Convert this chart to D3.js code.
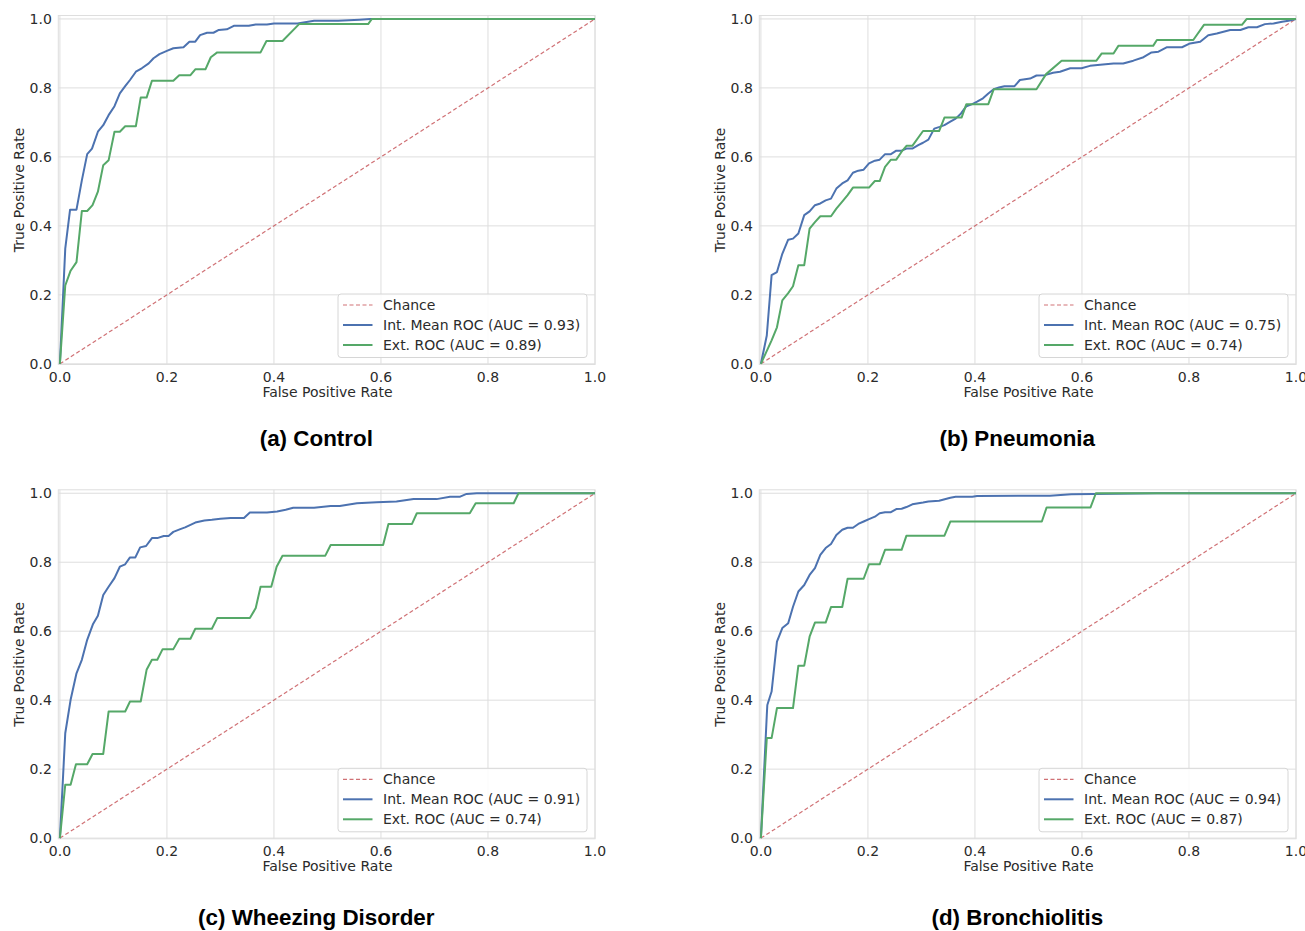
<!DOCTYPE html>
<html>
<head>
<meta charset="utf-8">
<script src="https://cdn.jsdelivr.net/npm/d3@7"></script>
<style>
  body { margin: 0; background: #fff; }
  svg { display: block; }
</style>
</head>
<body>
<div id="chart"></div>
<script>
(function(){

  // panel titles and AUC values
  var titles = ["(a) Control", "(b) Pneumonia", "(c) Wheezing Disorder", "(d) Bronchiolitis"];
  var aucInt = ["0.93", "0.75", "0.91", "0.94"];
  var aucExt = ["0.89", "0.74", "0.74", "0.87"];
  var xTicks = [0, 0.2, 0.4, 0.6, 0.8, 1.0];
  var yTicks = [0, 0.2, 0.4, 0.6, 0.8, 1.0];

  // [fpr, tpr]
  var controlInt = [[0,0],[0.01,0.334],[0.019,0.447],[0.031,0.447],[0.041,0.532],[0.051,0.608],[0.06,0.624],[0.071,0.673],[0.081,0.692],[0.091,0.721],[0.102,0.747],[0.112,0.784],[0.122,0.805],[0.131,0.823],[0.142,0.847],[0.153,0.857],[0.166,0.871],[0.175,0.886],[0.186,0.898],[0.201,0.908],[0.212,0.915],[0.231,0.918],[0.242,0.934],[0.253,0.934],[0.262,0.953],[0.275,0.96],[0.287,0.96],[0.297,0.968],[0.312,0.97],[0.325,0.98],[0.353,0.98],[0.366,0.984],[0.387,0.984],[0.4,0.987],[0.444,0.987],[0.475,0.995],[0.52,0.995],[0.56,0.998],[0.58,1],[1,1]];
  var controlExt = [[0,0],[0.01,0.227],[0.02,0.27],[0.031,0.295],[0.041,0.443],[0.051,0.443],[0.061,0.46],[0.071,0.499],[0.081,0.576],[0.091,0.59],[0.102,0.673],[0.112,0.673],[0.122,0.689],[0.142,0.689],[0.151,0.772],[0.162,0.772],[0.172,0.821],[0.212,0.821],[0.223,0.837],[0.244,0.837],[0.253,0.854],[0.272,0.854],[0.282,0.889],[0.294,0.903],[0.375,0.903],[0.386,0.936],[0.416,0.936],[0.447,0.985],[0.576,0.985],[0.583,1],[1,1]];

  var pneumoniaInt = [[0,0],[0.011,0.082],[0.02,0.257],[0.03,0.266],[0.04,0.319],[0.051,0.36],[0.06,0.363],[0.07,0.378],[0.081,0.431],[0.091,0.442],[0.101,0.46],[0.111,0.465],[0.121,0.474],[0.131,0.479],[0.141,0.508],[0.152,0.523],[0.162,0.532],[0.172,0.554],[0.182,0.56],[0.192,0.563],[0.202,0.581],[0.213,0.589],[0.222,0.592],[0.232,0.608],[0.243,0.608],[0.253,0.618],[0.263,0.618],[0.272,0.624],[0.283,0.624],[0.294,0.634],[0.303,0.641],[0.313,0.65],[0.324,0.682],[0.334,0.687],[0.343,0.692],[0.354,0.702],[0.364,0.711],[0.374,0.726],[0.384,0.747],[0.395,0.753],[0.404,0.76],[0.415,0.77],[0.425,0.784],[0.435,0.796],[0.445,0.801],[0.455,0.805],[0.474,0.805],[0.484,0.823],[0.503,0.827],[0.515,0.836],[0.531,0.837],[0.546,0.844],[0.559,0.847],[0.578,0.857],[0.599,0.857],[0.615,0.864],[0.634,0.867],[0.659,0.871],[0.677,0.871],[0.696,0.879],[0.715,0.889],[0.73,0.903],[0.743,0.905],[0.759,0.918],[0.787,0.918],[0.802,0.929],[0.821,0.934],[0.836,0.953],[0.852,0.958],[0.877,0.968],[0.896,0.968],[0.911,0.976],[0.927,0.976],[0.942,0.985],[0.958,0.987],[0.974,0.992],[0.986,0.995],[1,1]];
  var pneumoniaExt = [[0,0],[0.02,0.068],[0.03,0.106],[0.04,0.184],[0.051,0.205],[0.06,0.225],[0.07,0.286],[0.081,0.286],[0.091,0.392],[0.101,0.411],[0.111,0.428],[0.131,0.428],[0.141,0.45],[0.152,0.47],[0.162,0.489],[0.172,0.511],[0.202,0.511],[0.213,0.53],[0.222,0.53],[0.232,0.571],[0.243,0.592],[0.253,0.592],[0.263,0.615],[0.272,0.632],[0.283,0.632],[0.303,0.675],[0.333,0.675],[0.343,0.714],[0.375,0.714],[0.384,0.753],[0.425,0.753],[0.435,0.796],[0.515,0.796],[0.533,0.84],[0.562,0.879],[0.627,0.879],[0.637,0.9],[0.659,0.9],[0.668,0.922],[0.733,0.922],[0.74,0.939],[0.808,0.939],[0.828,0.983],[0.899,0.983],[0.908,1],[1,1]];

  var wheezingInt = [[0,0],[0.01,0.304],[0.02,0.401],[0.031,0.478],[0.041,0.517],[0.051,0.575],[0.062,0.621],[0.071,0.645],[0.081,0.705],[0.091,0.729],[0.102,0.754],[0.112,0.787],[0.122,0.794],[0.131,0.814],[0.141,0.814],[0.15,0.843],[0.161,0.847],[0.172,0.87],[0.182,0.87],[0.194,0.876],[0.203,0.876],[0.212,0.888],[0.225,0.896],[0.234,0.901],[0.253,0.915],[0.27,0.921],[0.284,0.923],[0.3,0.926],[0.319,0.928],[0.344,0.928],[0.355,0.944],[0.387,0.944],[0.406,0.947],[0.422,0.952],[0.436,0.958],[0.475,0.958],[0.506,0.963],[0.523,0.963],[0.555,0.971],[0.592,0.974],[0.629,0.976],[0.661,0.983],[0.704,0.983],[0.729,0.99],[0.748,0.99],[0.76,0.998],[0.779,1],[1,1]];
  var wheezingExt = [[0,0],[0.01,0.155],[0.02,0.155],[0.03,0.214],[0.051,0.214],[0.061,0.244],[0.081,0.244],[0.091,0.367],[0.122,0.367],[0.131,0.396],[0.151,0.396],[0.162,0.488],[0.172,0.517],[0.182,0.517],[0.192,0.548],[0.212,0.548],[0.223,0.578],[0.244,0.578],[0.253,0.607],[0.284,0.607],[0.294,0.638],[0.355,0.638],[0.366,0.667],[0.375,0.729],[0.395,0.729],[0.405,0.787],[0.416,0.819],[0.496,0.819],[0.506,0.85],[0.604,0.85],[0.614,0.911],[0.658,0.911],[0.667,0.942],[0.766,0.942],[0.777,0.971],[0.848,0.971],[0.857,1],[1,1]];

  var bronchInt = [[0,0],[0.011,0.357],[0.012,0.386],[0.02,0.425],[0.03,0.57],[0.04,0.609],[0.051,0.623],[0.06,0.671],[0.07,0.715],[0.081,0.734],[0.091,0.763],[0.101,0.783],[0.111,0.821],[0.121,0.841],[0.131,0.853],[0.141,0.879],[0.152,0.894],[0.162,0.9],[0.172,0.9],[0.182,0.911],[0.192,0.918],[0.202,0.925],[0.213,0.932],[0.222,0.942],[0.232,0.945],[0.243,0.945],[0.253,0.954],[0.263,0.955],[0.272,0.96],[0.283,0.968],[0.303,0.973],[0.313,0.976],[0.333,0.978],[0.354,0.987],[0.364,0.99],[0.395,0.99],[0.404,0.992],[0.54,0.993],[0.58,0.997],[0.74,1],[1,1]];
  var bronchExt = [[0,0],[0.011,0.29],[0.02,0.29],[0.03,0.377],[0.06,0.377],[0.07,0.5],[0.081,0.5],[0.091,0.584],[0.101,0.625],[0.121,0.625],[0.131,0.67],[0.152,0.67],[0.162,0.752],[0.192,0.752],[0.202,0.794],[0.222,0.794],[0.232,0.836],[0.263,0.836],[0.272,0.877],[0.343,0.877],[0.354,0.918],[0.525,0.918],[0.534,0.959],[0.616,0.959],[0.626,1],[1,1]];

  var intCurves = [controlInt, pneumoniaInt, wheezingInt, bronchInt];
  var extCurves = [controlExt, pneumoniaExt, wheezingExt, bronchExt];

  var blue = "#4c72b0", green = "#55a868", red = "#c44e52";
  var gridColor = "#dedede", textColor = "#2b2b2b";

  var svg = d3.select("#chart").append("svg")
    .attr("width", 1305)
    .attr("height", 931);

  // left/top of each axes frame
  var origins = [[58.3, 15.5], [759.3, 15.5], [58.3, 489.8], [759.3, 489.8]];
  var pw = 536.7, ph = 349;

  var x = d3.scaleLinear().domain([-0.003, 1.0]).range([0, pw]);
  var y = d3.scaleLinear().domain([-0.002, 1.01]).range([ph, 0]);

  var line = d3.line()
    .x(function(d){ return x(d[0]); })
    .y(function(d){ return y(d[1]); });

  origins.forEach(function(o, i){
    var g = svg.append("g")
      .attr("transform", "translate(" + o[0] + "," + o[1] + ")")
      .style("font-family", "DejaVu Sans, sans-serif");

    // grid
    g.selectAll(".vg").data(xTicks).enter().append("line")
      .attr("x1", function(d){ return x(d); })
      .attr("x2", function(d){ return x(d); })
      .attr("y1", 0).attr("y2", ph)
      .attr("stroke", gridColor).attr("stroke-width", 1);
    g.selectAll(".hg").data(yTicks).enter().append("line")
      .attr("x1", 0).attr("x2", pw)
      .attr("y1", function(d){ return y(d); })
      .attr("y2", function(d){ return y(d); })
      .attr("stroke", gridColor).attr("stroke-width", 1);

    g.append("rect")
      .attr("width", pw).attr("height", ph)
      .attr("fill", "none").attr("stroke", gridColor).attr("stroke-width", 1);

    // tick labels
    g.selectAll(".xt").data(xTicks).enter().append("text")
      .attr("x", function(d){ return x(d); })
      .attr("y", ph + 17.5)
      .attr("text-anchor", "middle")
      .attr("font-size", 14).attr("fill", textColor)
      .text(function(d){ return d3.format(".1f")(d); });
    g.selectAll(".yt").data(yTicks).enter().append("text")
      .attr("x", -6.5)
      .attr("y", function(d){ return y(d) + 5; })
      .attr("text-anchor", "end")
      .attr("font-size", 14).attr("fill", textColor)
      .text(function(d){ return d3.format(".1f")(d); });

    g.append("text")
      .attr("x", x(0.5)).attr("y", ph + 32)
      .attr("text-anchor", "middle")
      .attr("font-size", 14).attr("fill", textColor)
      .text("False Positive Rate");
    g.append("text")
      .attr("transform", "translate(-34," + (ph / 2) + ") rotate(-90)")
      .attr("text-anchor", "middle")
      .attr("font-size", 14).attr("fill", textColor)
      .text("True Positive Rate");

    // curves
    g.append("path")
      .datum([[0, 0], [1, 1]])
      .attr("d", line)
      .attr("fill", "none").attr("stroke", red).attr("stroke-opacity", 0.8)
      .attr("stroke-width", 1.2).attr("stroke-dasharray", "4,2.5");
    g.append("path")
      .datum(intCurves[i])
      .attr("d", line)
      .attr("fill", "none").attr("stroke", blue).attr("stroke-width", 2)
      .attr("stroke-linejoin", "round");
    g.append("path")
      .datum(extCurves[i])
      .attr("d", line)
      .attr("fill", "none").attr("stroke", green).attr("stroke-width", 2)
      .attr("stroke-linejoin", "round");

    // legend
    var lw = 249, lh = 63.5;
    var lg = g.append("g")
      .attr("transform", "translate(" + (pw - lw - 8) + "," + (ph - lh - 7) + ")");
    lg.append("rect")
      .attr("width", lw).attr("height", lh).attr("rx", 3)
      .attr("fill", "#fff").attr("fill-opacity", 0.85)
      .attr("stroke", "#d6d6d6");
    var entries = [
      {label: "Chance", color: red, dash: "4,2.5", w: 1.2, op: 0.8},
      {label: "Int. Mean ROC (AUC = " + aucInt[i] + ")", color: blue, dash: null, w: 2, op: 1},
      {label: "Ext. ROC (AUC = " + aucExt[i] + ")", color: green, dash: null, w: 2, op: 1}
    ];
    entries.forEach(function(e, k){
      var cy = 11 + k * 20;
      lg.append("line")
        .attr("x1", 5).attr("x2", 34.5)
        .attr("y1", cy).attr("y2", cy)
        .attr("stroke", e.color).attr("stroke-width", e.w)
        .attr("stroke-opacity", e.op)
        .attr("stroke-dasharray", e.dash);
      lg.append("text")
        .attr("x", 45).attr("y", cy + 5)
        .attr("font-size", 14).attr("fill", textColor)
        .text(e.label);
    });

    // subplot caption
    svg.append("text")
      .attr("x", o[0] + 258).attr("y", o[1] + (i < 2 ? 430.5 : 435.2))
      .attr("text-anchor", "middle")
      .style("font-family", "Liberation Sans, Arial, sans-serif")
      .attr("font-weight", "bold").attr("font-size", 22.4).attr("fill", "#000")
      .text(titles[i]);
  });

})();
</script>
</body>
</html>
